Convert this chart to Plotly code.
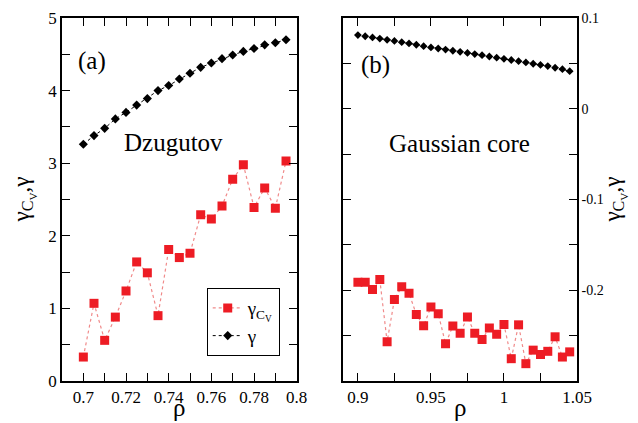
import plotly.graph_objects as go

# ---- data: panel (a) Dzugutov ----
rho_a = [0.700, 0.705, 0.710, 0.715, 0.720, 0.725, 0.730, 0.735, 0.740, 0.745,
         0.750, 0.755, 0.760, 0.765, 0.770, 0.775, 0.780, 0.785, 0.790, 0.795]
gamma_a = [3.26, 3.38, 3.48, 3.61, 3.70, 3.80, 3.89, 4.00, 4.07, 4.16,
           4.24, 4.32, 4.38, 4.44, 4.49, 4.54, 4.58, 4.63, 4.66, 4.70]
gammacv_a = [0.33, 1.07, 0.56, 0.88, 1.24, 1.64, 1.49, 0.90, 1.81, 1.70,
             1.76, 2.29, 2.23, 2.41, 2.78, 2.98, 2.39, 2.66, 2.38, 3.03]

# ---- data: panel (b) Gaussian core ----
rho_b = [0.900, 0.905, 0.910, 0.915, 0.920, 0.925, 0.930, 0.935, 0.940, 0.945,
         0.950, 0.955, 0.960, 0.965, 0.970, 0.975, 0.980, 0.985, 0.990, 0.995,
         1.000, 1.005, 1.010, 1.015, 1.020, 1.025, 1.030, 1.035, 1.040, 1.045]
gamma_b = [0.0812, 0.0799, 0.0786, 0.0773, 0.0760, 0.0747, 0.0734, 0.0720, 0.0705, 0.0690,
           0.0676, 0.0664, 0.0652, 0.0639, 0.0627, 0.0615, 0.0603, 0.0590, 0.0576, 0.0563,
           0.0550, 0.0537, 0.0524, 0.0510, 0.0496, 0.0483, 0.0470, 0.0452, 0.0436, 0.0414]
gammacv_b = [-0.1912, -0.1912, -0.1993, -0.1882, -0.2567, -0.2103, -0.1962, -0.2033, -0.2267, -0.2392,
             -0.2184, -0.2258, -0.2589, -0.2395, -0.2475, -0.2296, -0.2475, -0.2543, -0.2416, -0.2484,
             -0.2377, -0.2754, -0.2381, -0.2809, -0.2660, -0.2708, -0.2673, -0.2513, -0.2736, -0.2679]

# ---- tick labels ----
xa_vals = [0.70, 0.72, 0.74, 0.76, 0.78, 0.80]
xa_text = ["0.7", "0.72", "0.74", "0.76", "0.78", "0.8"]
ya_vals = [0, 1, 2, 3, 4, 5]
ya_text = ["0", "1", "2", "3", "4", "5"]
xb_vals = [0.90, 0.95, 1.00, 1.05]
xb_text = ["0.9", "0.95", "1", "1.05"]
yb_vals = [-0.2, -0.1, 0.0, 0.1]
yb_text = ["-0.2", "-0.1", "0", "0.1"]

FONT = "Liberation Serif"
RED = "#ED1C24"
RED_LINE = "#F08A8A"
CV_NAME = "γ<sub>C<sub>V</sub></sub>"
YTITLE = "γ<sub>C<sub>V</sub></sub>,γ"

fig = go.Figure()

fig.add_trace(go.Scatter(
    x=rho_a, y=gammacv_a, mode="lines+markers", name=CV_NAME,
    line=dict(color=RED_LINE, width=1.2, dash="dot"),
    marker=dict(symbol="square", size=9, color=RED),
    xaxis="x", yaxis="y"))
fig.add_trace(go.Scatter(
    x=rho_a, y=gamma_a, mode="lines+markers", name="γ",
    line=dict(color="black", width=1, dash="dot"),
    marker=dict(symbol="diamond", size=7, color="black"),
    xaxis="x", yaxis="y"))
fig.add_trace(go.Scatter(
    x=rho_b, y=gammacv_b, mode="lines+markers", showlegend=False,
    line=dict(color=RED_LINE, width=1.2, dash="dot"),
    marker=dict(symbol="square", size=9, color=RED),
    xaxis="x2", yaxis="y2"))
fig.add_trace(go.Scatter(
    x=rho_b, y=gamma_b, mode="lines+markers", showlegend=False,
    line=dict(color="black", width=1, dash="dot"),
    marker=dict(symbol="diamond", size=6, color="black"),
    xaxis="x2", yaxis="y2"))

axis_common = dict(
    showline=True, linecolor="black", linewidth=1.5, mirror="ticks",
    ticks="inside", ticklen=8, tickwidth=1, tickcolor="black",
    showgrid=False, zeroline=False, automargin=False,
    ticklabeloverflow="allow",
)

fig.update_layout(
    width=630, height=415,
    margin=dict(l=54, r=61, t=10, b=42, autoexpand=False),
    paper_bgcolor="white", plot_bgcolor="white",
    font=dict(family=FONT, color="black"),
    xaxis=dict(domain=[0, 0.4557], range=[0.69, 0.80], anchor="y",
               tickvals=xa_vals, ticktext=xa_text,
               tickfont=dict(size=17, family=FONT),
               minor=dict(dtick=0.01, tick0=0.70, ticks="inside", ticklen=8, tickcolor="black"),
               **axis_common),
    yaxis=dict(domain=[0, 1], range=[0, 5], anchor="x",
               tickvals=ya_vals, ticktext=ya_text,
               tickfont=dict(size=17, family=FONT),
               minor=dict(dtick=0.5, tick0=0, ticks="inside", ticklen=8, tickcolor="black"),
               **axis_common),
    xaxis2=dict(domain=[0.5462, 1], range=[0.89, 1.05], anchor="y2",
                tickvals=xb_vals, ticktext=xb_text,
                tickfont=dict(size=17, family=FONT),
                minor=dict(dtick=0.025, tick0=0.9, ticks="inside", ticklen=8, tickcolor="black"),
                **axis_common),
    yaxis2=dict(domain=[0, 1], range=[-0.3, 0.1], anchor="x2", side="right",
                tickvals=yb_vals, ticktext=yb_text,
                tickfont=dict(size=14, family=FONT),
                minor=dict(dtick=0.05, tick0=0, ticks="inside", ticklen=8, tickcolor="black"),
                **axis_common),
    legend=dict(x=0.281, y=0.256, xanchor="left", yanchor="top",
                bgcolor="white", bordercolor="black", borderwidth=1,
                font=dict(size=19, family=FONT), tracegroupgap=0,
                itemwidth=30),
    annotations=[
        dict(text="(a)", x=0.027, y=0.882, xref="paper", yref="paper",
             showarrow=False, font=dict(size=25, family=FONT), xanchor="left", yanchor="middle"),
        dict(text="Dzugutov", x=0.116, y=0.656, xref="paper", yref="paper",
             showarrow=False, font=dict(size=25, family=FONT), xanchor="left", yanchor="middle"),
        dict(text="(b)", x=0.576, y=0.871, xref="paper", yref="paper",
             showarrow=False, font=dict(size=25, family=FONT), xanchor="left", yanchor="middle"),
        dict(text="Gaussian core", x=0.631, y=0.653, xref="paper", yref="paper",
             showarrow=False, font=dict(size=25, family=FONT), xanchor="left", yanchor="middle"),
        # axis titles
        dict(text="ρ", x=0.2279, y=-0.117, xref="paper", yref="paper",
             showarrow=False, font=dict(size=25, family=FONT), xanchor="center", yanchor="bottom"),
        dict(text="ρ", x=0.7731, y=-0.117, xref="paper", yref="paper",
             showarrow=False, font=dict(size=25, family=FONT), xanchor="center", yanchor="bottom"),
        dict(text=YTITLE, x=-0.0757, y=0.5, xref="paper", yref="paper", textangle=-90,
             showarrow=False, font=dict(size=23, family=FONT), xanchor="center", yanchor="middle"),
        dict(text=YTITLE, x=1.072, y=0.5, xref="paper", yref="paper", textangle=-90,
             showarrow=False, font=dict(size=23, family=FONT), xanchor="center", yanchor="middle"),
    ],
)

fig.write_html("out.html")
